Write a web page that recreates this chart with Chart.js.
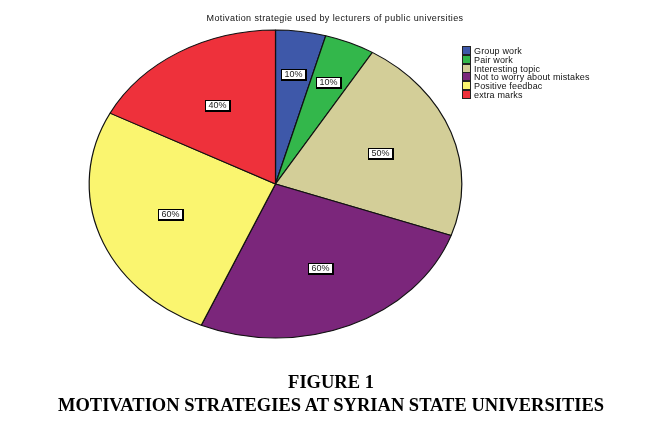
<!DOCTYPE html>
<html>
<head>
<meta charset="utf-8">
<script src="https://cdn.jsdelivr.net/npm/chart.js@4.4.0/dist/chart.umd.min.js"></script>
<style>
  html, body { margin: 0; padding: 0; background: #fff; }
  #wrap { position: relative; width: 651px; height: 426px; overflow: hidden; }
  #pie { position: absolute; left: 0; top: 0; }
  .title { position: absolute; left: 0; width: 670px; top: 13px; text-align: center;
           font: 9px "Liberation Sans", Arial, sans-serif; color: #111; letter-spacing: 0.4px; }
  #legend { position: absolute; left: 462px; top: 46px; font: 9px "Liberation Sans", Arial, sans-serif; color: #111; letter-spacing: 0.15px; }
  #legend div { height: 8.8px; line-height: 8.8px; white-space: nowrap; }
  #legend span { display: inline-block; width: 7px; height: 7px; border: 1px solid #222; margin-right: 3px; vertical-align: -1px; }
  .cap { position: absolute; left: 0; width: 662px; text-align: center; line-height: 20px;
         font: bold 18.5px "Liberation Serif", "Times New Roman", serif; color: #000; }
</style>
</head>
<body>
<div id="wrap">
  <canvas id="pie" width="651" height="426"></canvas>
  <div class="title">Motivation strategie used by lecturers of public universities</div>
  <div id="legend"></div>
  <div class="cap" style="top:372px">FIGURE 1</div>
  <div class="cap" style="top:395px">MOTIVATION STRATEGIES AT SYRIAN STATE UNIVERSITIES</div>
</div>
<script>
const labels = ['Group work', 'Pair work', 'Interesting topic', 'Not to worry about mistakes', 'Positive feedbac', 'extra marks'];
const values = [10, 10, 50, 60, 60, 40];
const colors = ['#3e58a9', '#33b74b', '#d3ce98', '#7b267b', '#faf56f', '#ee313b'];

// legend built from the same arrays
const legend = document.getElementById('legend');
labels.forEach((l, i) => {
    const row = document.createElement('div');
    row.innerHTML = '<span style="background:' + colors[i] + '"></span>' + l;
    legend.appendChild(row);
});

const stretch = 1.21; // the original pie is an ellipse

const ellipse = {
    id: 'ellipse',
    beforeDatasetsDraw(chart) {
        const arc = chart.getDatasetMeta(0).data[0];
        const ctx = chart.ctx;
        ctx.save();
        ctx.translate(arc.x, arc.y);
        ctx.scale(stretch, 1);
        ctx.translate(-arc.x, -arc.y);
    },
    afterDatasetsDraw(chart) {
        const ctx = chart.ctx;
        ctx.restore();
        // percentage boxes
        ctx.save();
        ctx.font = '9px "Liberation Sans", Arial, sans-serif';
        ctx.textAlign = 'center';
        ctx.textBaseline = 'middle';
        chart.getDatasetMeta(0).data.forEach((a, i) => {
            const p = a.getProps(['x', 'y', 'startAngle', 'endAngle', 'outerRadius']);
            const mid = (p.startAngle + p.endAngle) / 2;
            const f = values[i] < 20 ? 0.72 : 0.6;
            const x = p.x + Math.cos(mid) * p.outerRadius * f * stretch;
            const y = p.y + Math.sin(mid) * p.outerRadius * f;
            const txt = values[i] + '%';
            const w = Math.round(ctx.measureText(txt).width + 7);
            const h = 11;
            const bx = Math.round(x - w / 2), by = Math.round(y - h / 2);
            ctx.fillStyle = '#000';
            ctx.fillRect(bx, by, w + 1, h + 1);
            ctx.fillStyle = '#fff';
            ctx.fillRect(bx + 1, by + 1, w - 2, h - 2);
            ctx.fillStyle = '#222';
            ctx.fillText(txt, bx + w / 2, by + h / 2 + 0.5);
        });
        ctx.restore();
    }
};

new Chart(document.getElementById('pie'), {
    type: 'pie',
    data: {
        labels: labels,
        datasets: [{
            data: values,
            backgroundColor: colors,
            borderColor: '#111',
            borderWidth: 1
        }]
    },
    options: {
        responsive: false,
        animation: false,
        layout: {
            padding: { left: 121, right: 221, top: 29.5, bottom: 87.5 }
        },
        plugins: {
            legend: { display: false },
            tooltip: { enabled: false }
        }
    },
    plugins: [ellipse]
});
</script>
</body>
</html>
